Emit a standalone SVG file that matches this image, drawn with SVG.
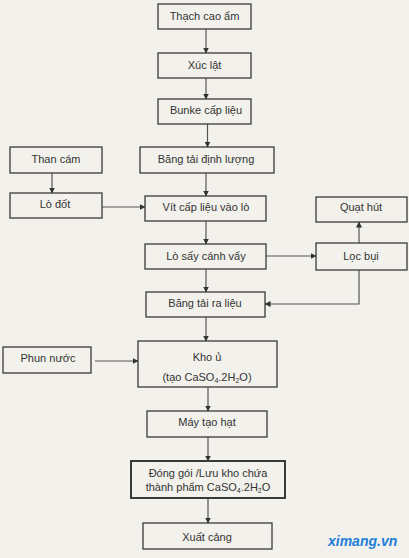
<svg xmlns="http://www.w3.org/2000/svg" width="409" height="558" viewBox="0 0 409 558">
<defs>
<marker id="ah" markerWidth="6" markerHeight="6" refX="5.5" refY="3" orient="auto" markerUnits="userSpaceOnUse">
<path d="M0,0 L6,3 L0,6 Z" fill="#333"/>
</marker>
<style>
.box{fill:none;stroke:#3a3a3a;stroke-width:1.3}
.thick{stroke-width:2}
.t{font-family:"Liberation Sans",Arial,sans-serif;font-size:11px;fill:#333;text-anchor:middle}
.sub{font-size:7px}
.c{fill:none;stroke:#555;stroke-width:1.2}
.wm{font-family:"Liberation Sans",Arial,sans-serif;font-size:14px;font-weight:bold;font-style:italic;fill:#1e7fd8}
</style>
</defs>
<rect width="409" height="558" fill="#f2f1ec"/>
<g id="connectors">
<path class="c" d="M206,29 V53" marker-end="url(#ah)"/>
<path class="c" d="M206,78 V99" marker-end="url(#ah)"/>
<path class="c" d="M207.5,124 V147" marker-end="url(#ah)"/>
<path class="c" d="M52,173 V193" marker-end="url(#ah)"/>
<path class="c" d="M206,173 V196" marker-end="url(#ah)"/>
<path class="c" d="M102,207 H145" marker-end="url(#ah)"/>
<path class="c" d="M206,221 V244" marker-end="url(#ah)"/>
<path class="c" d="M266,256 H316" marker-end="url(#ah)"/>
<path class="c" d="M359,243 V222" marker-end="url(#ah)"/>
<path class="c" d="M359,270 V304 H265" marker-end="url(#ah)"/>
<path class="c" d="M206,269 V292" marker-end="url(#ah)"/>
<path class="c" d="M206,317 V341" marker-end="url(#ah)"/>
<path class="c" d="M95,361 H138" marker-end="url(#ah)"/>
<path class="c" d="M208,387 V411" marker-end="url(#ah)"/>
<path class="c" d="M208,437 V461" marker-end="url(#ah)"/>
<path class="c" d="M208,498 V523" marker-end="url(#ah)"/>
</g>
<g id="thach-cao-am"><rect class="box" x="158" y="4" width="93" height="25"/><text class="t" x="204.5" y="20">Thạch cao ẩm</text></g>
<g id="xuc-lat"><rect class="box" x="158" y="53" width="93" height="25"/><text class="t" x="204.5" y="69">Xúc lật</text></g>
<g id="bunke"><rect class="box" x="158" y="99" width="93" height="25"/><text class="t" x="206" y="114">Bunke cấp liệu</text></g>
<g id="than-cam"><rect class="box" x="10" y="147" width="92" height="26"/><text class="t" x="56" y="163">Than cám</text></g>
<g id="bang-tai-dinh-luong"><rect class="box" x="140" y="147" width="134" height="26"/><text class="t" x="206" y="163">Băng tải định lượng</text></g>
<g id="lo-dot"><rect class="box" x="10" y="193" width="92" height="25"/><text class="t" x="55" y="208">Lò đốt</text></g>
<g id="vit-cap-lieu"><rect class="box" x="145" y="196" width="121" height="25"/><text class="t" x="206" y="211">Vít cấp liệu vào lò</text></g>
<g id="quat-hut"><rect class="box" x="316" y="197" width="91" height="25"/><text class="t" x="361" y="211">Quạt hút</text></g>
<g id="lo-say"><rect class="box" x="145" y="244" width="121" height="25"/><text class="t" x="206" y="260">Lò sấy cánh vẩy</text></g>
<g id="loc-bui"><rect class="box" x="316" y="243" width="91" height="27"/><text class="t" x="361" y="260">Lọc bụi</text></g>
<g id="bang-tai-ra-lieu"><rect class="box" x="146" y="292" width="119" height="25"/><text class="t" x="205" y="307">Băng tải ra liệu</text></g>
<g id="phun-nuoc"><rect class="box" x="3" y="347" width="88" height="26"/><text class="t" x="48" y="362">Phun nước</text></g>
<g id="kho-u"><rect class="box" x="138" y="341" width="139" height="46"/><text class="t" x="207" y="361">Kho ủ</text><text class="t" x="207" y="381">(tạo CaSO<tspan class="sub" dy="2">4</tspan><tspan dy="-2">.2H</tspan><tspan class="sub" dy="2">2</tspan><tspan dy="-2">O)</tspan></text></g>
<g id="may-tao-hat"><rect class="box" x="147" y="411" width="120" height="26"/><text class="t" x="207" y="426">Máy tạo hạt</text></g>
<g id="dong-goi"><rect class="box thick" x="131" y="461" width="154" height="37"/><text class="t" x="208" y="477">Đóng gói /Lưu kho chứa</text><text class="t" x="208" y="491">thành phẩm CaSO<tspan class="sub" dy="2">4</tspan><tspan dy="-2">.2H</tspan><tspan class="sub" dy="2">2</tspan><tspan dy="-2">O</tspan></text></g>
<g id="xuat-cang"><rect class="box" x="143" y="523" width="129" height="26"/><text class="t" x="207" y="541">Xuất cảng</text></g>
<text class="wm" x="328" y="546">ximang.vn</text>
</svg>
